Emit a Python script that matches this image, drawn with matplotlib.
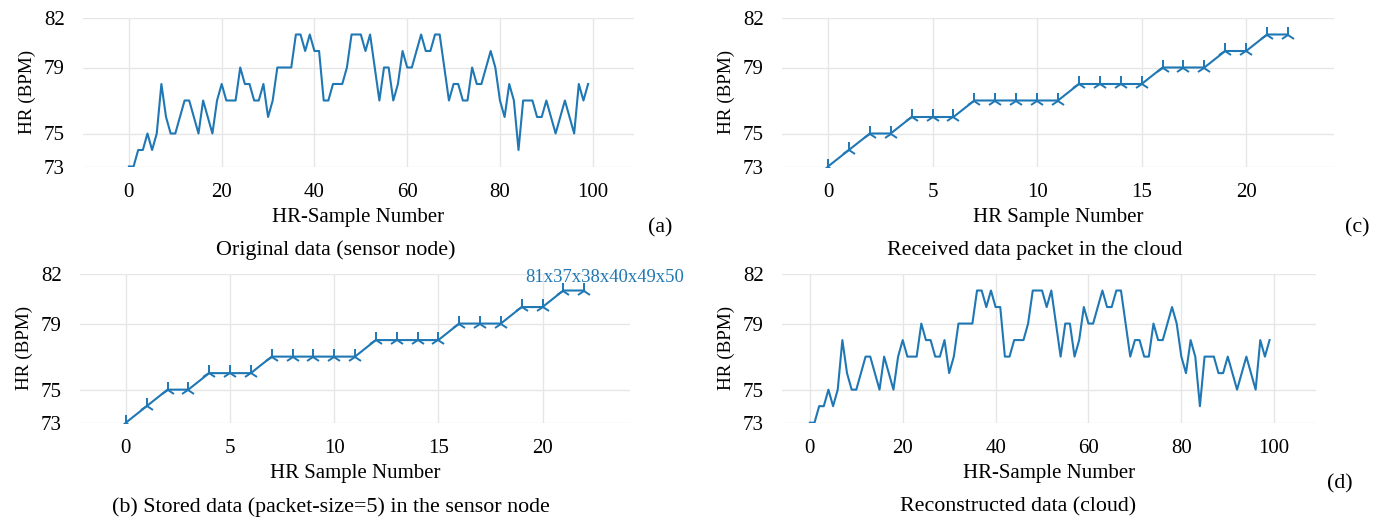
import matplotlib
matplotlib.use("Agg")
import matplotlib.pyplot as plt
import numpy as np

plt.rcParams['font.family'] = ['Liberation Serif', 'DejaVu Serif']

# ---- data ----
hr_original = [73, 73, 74, 74, 75, 74, 75, 78, 76, 75,
               75, 76, 77, 77, 76, 75, 77, 76, 75, 77,
               78, 77, 77, 77, 79, 78, 78, 77, 77, 78,
               76, 77, 79, 79, 79, 79, 81, 81, 80, 81,
               80, 80, 77, 77, 78, 78, 78, 79, 81, 81,
               81, 80, 81, 79, 77, 79, 79, 77, 78, 80,
               79, 79, 80, 81, 80, 80, 81, 81, 79, 77,
               78, 78, 77, 77, 79, 78, 78, 79, 80, 79,
               77, 76, 78, 77, 74, 77, 77, 77, 76, 76,
               77, 76, 75, 76, 77, 76, 75, 78, 77, 78]
hr_packet = [73, 74, 75, 75, 76, 76, 76, 77, 77, 77, 77, 77,
             78, 78, 78, 78, 79, 79, 79, 80, 80, 81, 81]
y_ticks = [73, 75, 79, 82]
annotation_text = "81x37x38x40x49x50"

BLUE = '#1f77b4'
GRID = '#e6e6e6'
FS = 15
FS_YL = 13.8
FS_CAP = 15.8

W, H = 1380, 517
fig = plt.figure(figsize=(W / 100, H / 100), dpi=100)


def px_axes(x0, y0, x1, y1):
    return fig.add_axes([x0 / W, 1 - y1 / H, (x1 - x0) / W, (y1 - y0) / H])


def style(ax, xlabel, xticks):
    ax.set_ylim(73, 82)
    ax.set_yticks(y_ticks)
    ax.set_xticks(xticks)
    ax.grid(True, color=GRID, linewidth=1.0)
    ax.set_axisbelow(True)
    for s in ax.spines.values():
        s.set_visible(False)
    ax.tick_params(axis='y', length=0, labelsize=FS, pad=13)
    ax.tick_params(axis='x', length=0, labelsize=FS, pad=12)
    ax.set_ylabel("HR (BPM)", fontsize=FS_YL, labelpad=6)
    ax.set_xlabel(xlabel, fontsize=FS, labelpad=4)
    ax.margins(x=0.1)


# (a) original
ax_a = px_axes(83, 18, 634, 166.5)
x_orig = np.arange(len(hr_original))
ax_a.plot(x_orig, hr_original, color=BLUE, lw=1.5)
style(ax_a, "HR-Sample Number", [0, 20, 40, 60, 80, 100])

# (c) received packet
ax_c = px_axes(782, 18, 1334, 166.5)
x_pk = np.arange(len(hr_packet))
ax_c.plot(x_pk, hr_packet, color=BLUE, lw=1.5, marker='2', markersize=11, markeredgewidth=1.4)
style(ax_c, "HR Sample Number", [0, 5, 10, 15, 20])

# (b) stored
ax_b = px_axes(80, 274, 630, 422.7)
ax_b.plot(x_pk, hr_packet, color=BLUE, lw=1.5, marker='2', markersize=11, markeredgewidth=1.4)
style(ax_b, "HR Sample Number", [0, 5, 10, 15, 20])
ax_b.annotate(annotation_text, xy=(x_pk[-1], hr_packet[-1]), xytext=(604.5 / W, 1 - 277 / H),
              textcoords='figure fraction', ha='center', va='center', color=BLUE, fontsize=13.4)

# (d) reconstructed
ax_d = px_axes(782, 274, 1316, 422.7)
ax_d.plot(x_orig, hr_original, color=BLUE, lw=1.5)
style(ax_d, "HR-Sample Number", [0, 20, 40, 60, 80, 100])
ax_d.set_xlim(-6.0, 109.0)


def ftext(x, y, s, **kw):
    fig.text(x / W, 1 - y / H, s, ha='center', va='center', fontsize=FS_CAP, **kw)


ftext(660, 228, "(a)")
ftext(336, 250, "Original data (sensor node)")
ftext(1357, 228, "(c)")
ftext(1035, 250, "Received data packet in the cloud")
ftext(331, 507, "(b) Stored data (packet-size=5) in the sensor node")
ftext(1340, 484, "(d)")
ftext(1018, 507, "Reconstructed data (cloud)")

fig.savefig("out.png", dpi=100)
